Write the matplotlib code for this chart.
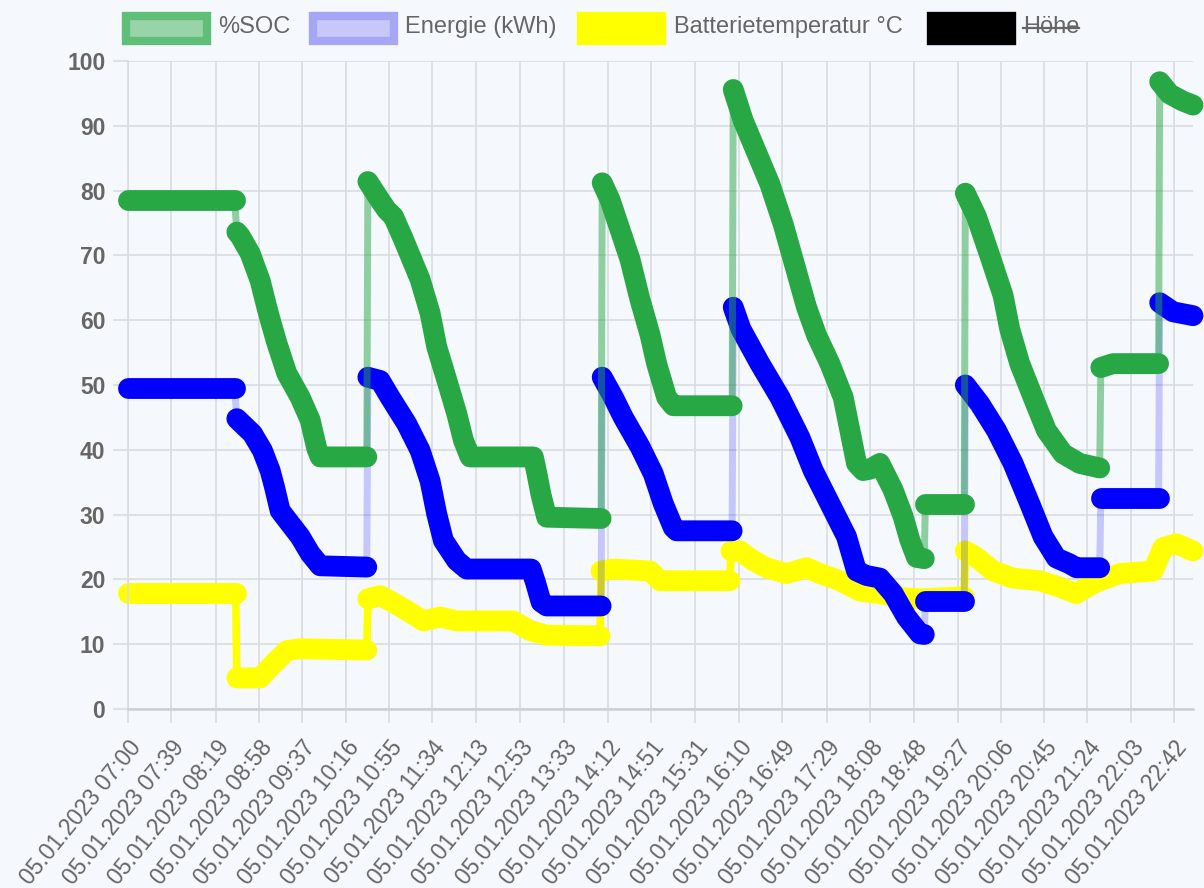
import matplotlib
matplotlib.use("Agg")
import matplotlib.pyplot as plt
from matplotlib.patches import Rectangle
from matplotlib.lines import Line2D
from matplotlib.transforms import ScaledTranslation

# ---------------- data ----------------
tick_labels = ["05.01.2023 07:00", "05.01.2023 07:39", "05.01.2023 08:19", "05.01.2023 08:58",
               "05.01.2023 09:37", "05.01.2023 10:16", "05.01.2023 10:55", "05.01.2023 11:34",
               "05.01.2023 12:13", "05.01.2023 12:53", "05.01.2023 13:33", "05.01.2023 14:12",
               "05.01.2023 14:51", "05.01.2023 15:31", "05.01.2023 16:10", "05.01.2023 16:49",
               "05.01.2023 17:29", "05.01.2023 18:08", "05.01.2023 18:48", "05.01.2023 19:27",
               "05.01.2023 20:06", "05.01.2023 20:45", "05.01.2023 21:24", "05.01.2023 22:03",
               "05.01.2023 22:42"]
x_start, x_end = "07:00", "22:59"

soc_time = ["07:00", "08:36",
            "08:38", "08:41", "08:50", "08:59", "09:05", "09:08", "09:14", "09:23", "09:35", "09:44", "09:50", "09:53", "10:35",
            "10:36", "10:47", "10:53", "10:59", "11:08", "11:23", "11:32", "11:38", "11:47", "11:56", "12:02", "12:08", "13:05", "13:08", "13:12", "13:17", "14:06",
            "14:07", "14:14", "14:23", "14:32", "14:41", "14:50", "14:56", "15:05", "15:11", "16:04",
            "16:05", "16:14", "16:26", "16:38", "16:50", "17:02", "17:11", "17:20", "17:32", "17:44", "17:50", "17:56", "18:02", "18:08", "18:17", "18:29", "18:38", "18:44", "18:50", "18:57",
            "18:58", "19:33",
            "19:34", "19:44", "19:56", "20:08", "20:14", "20:23", "20:35", "20:47", "21:02", "21:17", "21:35",
            "21:36", "21:47", "22:28",
            "22:29", "22:38", "22:50", "22:59"]
soc_vals = [78.6, 78.6,
            73.6, 73.0, 70.3, 66.1, 62.0, 60.1, 56.5, 51.8, 48.1, 44.6, 40.2, 38.9, 38.9,
            81.4, 78.5, 77.0, 76.0, 72.5, 66.3, 61.1, 55.9, 50.8, 45.6, 41.5, 38.9, 38.9, 36.5, 33.0, 29.6, 29.4,
            81.2, 78.6, 74.0, 69.4, 63.2, 57.8, 53.3, 48.1, 46.8, 46.8,
            95.6, 90.8, 85.9, 81.0, 74.8, 67.5, 62.0, 57.7, 53.3, 48.1, 43.0, 37.9, 36.8, 37.0, 37.9, 33.8, 29.7, 26.1, 23.4, 23.2,
            31.6, 31.6,
            79.6, 76.0, 70.0, 63.8, 58.6, 53.3, 48.1, 43.0, 39.4, 37.9, 37.2,
            52.7, 53.3, 53.3,
            96.8, 94.9, 93.8, 93.2]
soc_jumps = ["08:38", "10:36", "14:07", "16:05", "18:58", "19:34", "21:36", "22:29"]

en_time = ["07:00", "08:36",
           "08:38", "08:52", "09:01", "09:08", "09:12", "09:17", "09:26", "09:35", "09:44", "09:53", "10:35",
           "10:36", "10:47", "10:56", "11:11", "11:23", "11:32", "11:38", "11:44", "11:56", "12:05", "13:03", "13:07", "13:12", "13:17", "14:06",
           "14:07", "14:17", "14:26", "14:41", "14:53", "15:02", "15:11", "15:14", "16:04",
           "16:05", "16:12", "16:29", "16:47", "17:05", "17:17", "17:32", "17:47", "17:56", "18:05", "18:17", "18:29", "18:41", "18:53", "18:57",
           "18:58", "19:33",
           "19:34", "19:47", "20:02", "20:17", "20:32", "20:44", "20:56", "21:08", "21:14", "21:35",
           "21:36", "22:28",
           "22:29", "22:41", "22:59"]
en_vals = [49.6, 49.6,
           44.8, 42.5, 39.9, 36.8, 34.2, 30.6, 28.6, 26.6, 24.0, 22.1, 21.9,
           51.2, 50.7, 48.1, 44.0, 39.9, 35.2, 30.1, 26.0, 22.9, 21.6, 21.6, 19.5, 16.5, 15.9, 15.9,
           51.2, 48.1, 45.0, 40.5, 36.3, 31.7, 28.0, 27.5, 27.5,
           62.0, 58.6, 53.3, 48.1, 41.9, 36.8, 31.7, 26.6, 21.3, 20.6, 20.2, 17.8, 14.2, 11.6, 11.5,
           16.7, 16.7,
           50.0, 47.1, 43.0, 37.9, 31.7, 26.6, 23.3, 22.4, 21.8, 21.8,
           32.5, 32.5,
           62.7, 61.3, 60.7]
en_jumps = ["08:38", "10:36", "14:07", "16:05", "18:58", "19:34", "21:36", "22:29"]

temp_time = ["07:00", "08:37",
             "08:38", "08:59", "09:11", "09:23", "09:35", "10:35",
             "10:36", "10:47", "10:56", "11:11", "11:26", "11:41", "11:56", "12:47", "13:02", "13:17", "14:05",
             "14:06", "14:17", "14:50", "14:59", "16:02",
             "16:03", "16:11", "16:23", "16:35", "16:53", "17:11", "17:23", "17:41", "17:59", "18:17", "18:35", "18:53", "19:33",
             "19:34", "19:44", "19:59", "20:17", "20:41", "20:59", "21:14", "21:23", "21:35", "21:53", "22:23", "22:32", "22:44", "22:59"]
temp_vals = [17.9, 17.9,
             4.8, 4.8, 7.0, 9.0, 9.3, 9.1,
             17.0, 17.5, 16.7, 15.2, 13.6, 14.2, 13.6, 13.6, 12.1, 11.4, 11.3,
             21.3, 21.6, 21.3, 19.8, 19.8,
             24.4, 24.4, 22.9, 21.8, 20.9, 21.8, 20.9, 19.8, 18.2, 17.8, 17.2, 17.0, 17.3,
             24.4, 23.4, 21.3, 20.2, 19.8, 18.8, 17.8, 18.8, 19.8, 20.9, 21.3, 24.9, 25.5, 24.4]
temp_jumps = ["08:38", "10:36", "14:06", "16:03", "19:34"]

legend_labels = ["%SOC", "Energie (kWh)", "Batterietemperatur °C", "Höhe"]

# ---------------- helpers ----------------
def mins(s):
    h, m = s.split(":")
    return int(h) * 60 + int(m)

W, H, DPI = 1204, 888, 100
BG = "#f5f8fc"
GRID = "#d9dce1"
TXT = "#666666"
FONT = "Liberation Sans"

fig = plt.figure(figsize=(W / DPI, H / DPI), dpi=DPI, facecolor=BG)
ax = fig.add_axes([128 / W, 1 - 709 / H, (1193 - 128) / W, (709 - 61) / H])
ax.set_facecolor(BG)

def draw_series(times, vals, jumps, mcolor, lcolor, lalpha, lw_thin, z):
    x = [mins(t) for t in times]
    # thin connecting line through every point
    ax.plot(x, vals, color=lcolor, alpha=lalpha, lw=lw_thin, zorder=z,
            solid_joinstyle="round", solid_capstyle="butt")
    # thick point strokes per continuous run
    starts = [0] + [times.index(j) for j in jumps] + [len(times)]
    for a, b in zip(starts[:-1], starts[1:]):
        ax.plot(x[a:b], vals[a:b], color=mcolor, lw=15, zorder=z + 0.5,
                solid_capstyle="round", solid_joinstyle="round", clip_on=False)

draw_series(temp_time, temp_vals, temp_jumps, "#ffff00", "#ffff00", 1.0, 5.5, 2)
draw_series(en_time, en_vals, en_jumps, "#0000ff", "#0000ff", 0.2, 5.0, 4)
draw_series(soc_time, soc_vals, soc_jumps, "#28a745", "#28a745", 0.5, 5.0, 6)

# ---------------- axes ----------------
ax.set_xlim(mins(x_start), mins(x_end))
ax.set_ylim(0, 100)
xt = [mins(l.split(" ")[1]) for l in tick_labels]
ax.set_xticks(xt)
ax.set_xticklabels(tick_labels, rotation=51, ha="right", va="center",
                   rotation_mode="anchor", fontsize=16.5, color=TXT, family=FONT)
ax.set_yticks(range(0, 101, 10))
ax.set_yticklabels([str(v) for v in range(0, 101, 10)], fontsize=16.5, color=TXT,
                   family=FONT, fontweight="bold")
ax.tick_params(axis="x", length=10, width=1.2, color=GRID, pad=15)
ax.tick_params(axis="y", length=10.8, width=1.2, color=GRID, pad=5.5)
off = ScaledTranslation(9 / DPI, 0, fig.dpi_scale_trans)
for lab in ax.get_xticklabels():
    lab.set_transform(lab.get_transform() + off)
ax.grid(True, color=GRID, lw=1.2, zorder=0)
ax.set_axisbelow(True)
for s in ("top", "right"):
    ax.spines[s].set_visible(False)
ax.spines["left"].set_color(GRID)
ax.spines["left"].set_linewidth(1.2)
ax.spines["bottom"].set_color("#cdd0d5")
ax.spines["bottom"].set_linewidth(1.8)

# ---------------- legend ----------------
def fx(px):
    return px / W

def fy(py):
    return 1 - py / H

boxes = [
    (122, "#98d4a8", "#5fbf78", legend_labels[0], 218),
    (309, "#c7c7fa", "#a6a6f5", legend_labels[1], 405),
    (577, "#ffff00", "#ffff00", legend_labels[2], 674),
    (927, "#000000", "#000000", legend_labels[3], 1023),
]
texts = []
for x0, fc, ec, lab, tx in boxes:
    r = Rectangle((fx(x0 + 4), fy(41)), (89 - 8) / W, (33 - 8) / H, transform=fig.transFigure,
                  facecolor=fc, edgecolor=ec, lw=6, zorder=10)
    fig.add_artist(r)
    t = fig.text(fx(tx), fy(27), lab, fontsize=17, color=TXT, family=FONT,
                 ha="left", va="center", zorder=10)
    texts.append(t)

fig.canvas.draw()
bb = texts[3].get_window_extent()
ymid = (bb.y0 + bb.y1) / 2 - 1
fig.add_artist(Line2D([bb.x0, bb.x1], [ymid, ymid], transform=None, color=TXT, lw=1.6))

fig.savefig("out.png", dpi=DPI, facecolor=BG)
